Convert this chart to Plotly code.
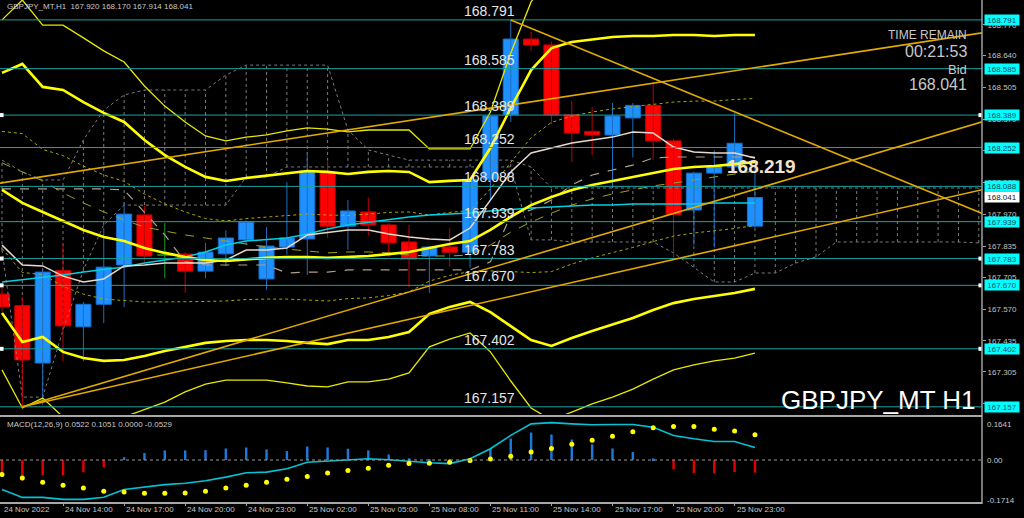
import plotly.graph_objects as go

# ---------------- DATA ----------------
bars = list(range(38))
open_ = [167.633, 167.584, 167.342, 167.732, 167.495, 167.590, 167.756, 167.967, 167.798, 167.802,
         167.730, 167.803, 167.862, 167.697, 167.832, 167.866, 168.150, 167.920, 167.980, 167.925,
         167.853, 167.794, 167.832, 167.810, 168.118, 168.390, 168.710, 168.685, 168.390, 168.320,
         168.305, 168.377, 168.430, 168.280, 167.988, 168.144, 168.170, 167.920]
high = [167.660, 167.620, 167.740, 167.849, 167.600, 167.912, 168.018, 168.005, 167.933, 167.810,
        167.850, 167.903, 167.945, 167.916, 168.106, 168.230, 168.200, 168.030, 168.040, 167.933,
        167.925, 167.835, 167.912, 168.120, 168.390, 168.791, 168.740, 168.700, 168.450, 168.423,
        168.440, 168.440, 168.520, 168.290, 168.150, 168.240, 168.398, 168.170]
low = [167.560, 167.157, 167.165, 167.350, 167.350, 167.510, 167.578, 167.770, 167.700, 167.638,
       167.700, 167.750, 167.840, 167.650, 167.800, 167.714, 167.870, 167.820, 167.880, 167.790,
       167.663, 167.638, 167.748, 167.744, 168.030, 168.360, 168.660, 168.350, 168.190, 168.220,
       168.080, 168.210, 168.200, 167.786, 167.840, 167.830, 168.150, 167.914]
close = [167.579, 167.355, 167.726, 167.499, 167.590, 167.747, 167.971, 167.794, 167.798, 167.730,
         167.810, 167.870, 167.937, 167.836, 167.870, 168.153, 167.920, 167.984, 167.925, 167.850,
         167.781, 167.832, 167.810, 168.118, 168.385, 168.710, 168.685, 168.390, 168.313, 168.305,
         168.385, 168.430, 168.280, 167.970, 168.144, 168.174, 168.270, 168.041]

bb_mid = [168.073, 168.018, 167.980, 167.942, 167.904, 167.874, 167.857, 167.828, 167.807, 167.790,
          167.777, 167.773, 167.781, 167.786, 167.790, 167.790, 167.786, 167.790, 167.794, 167.802,
          167.811, 167.828, 167.845, 167.857, 167.904, 167.959, 168.009, 168.043, 168.073, 168.094,
          168.111, 168.128, 168.144, 168.161, 168.170, 168.174, 168.182, 168.191]
bb_up2 = [168.567, 168.605, 168.508, 168.495, 168.444, 168.398, 168.360, 168.284, 168.220, 168.170,
          168.128, 168.111, 168.123, 168.132, 168.144, 168.153, 168.149, 168.140, 168.149, 168.153,
          168.149, 168.106, 168.111, 168.115, 168.250, 168.419, 168.579, 168.672, 168.698, 168.710,
          168.719, 168.723, 168.723, 168.727, 168.727, 168.723, 168.727, 168.727]
bb_lo2 = [167.553, 167.431, 167.452, 167.389, 167.363, 167.351, 167.355, 167.372, 167.393, 167.410,
          167.427, 167.435, 167.439, 167.439, 167.435, 167.427, 167.422, 167.439, 167.439, 167.452,
          167.473, 167.549, 167.579, 167.600, 167.557, 167.498, 167.439, 167.414, 167.448, 167.477,
          167.503, 167.532, 167.566, 167.595, 167.612, 167.625, 167.638, 167.655]
bb_up3 = [168.791, 168.875, 168.769, 168.769, 168.715, 168.660, 168.613, 168.512, 168.427, 168.360,
          168.301, 168.280, 168.296, 168.305, 168.322, 168.335, 168.330, 168.318, 168.326, 168.326,
          168.326, 168.246, 168.246, 168.246, 168.402, 168.651, 168.867, 168.989, 169.010, 169.019,
          169.023, 169.023, 169.014, 169.010, 169.006, 168.997, 169.002, 168.997]
bb_lo3 = [167.313, 167.152, 167.194, 167.114, 167.093, 167.089, 167.114, 167.144, 167.177, 167.220,
          167.253, 167.270, 167.270, 167.270, 167.258, 167.245, 167.241, 167.262, 167.262, 167.274,
          167.300, 167.410, 167.443, 167.469, 167.389, 167.266, 167.152, 167.101, 167.135, 167.169,
          167.198, 167.232, 167.274, 167.313, 167.334, 167.351, 167.363, 167.384]
bb_up1 = [168.320, 168.311, 168.244, 168.218, 168.174, 168.136, 168.109, 168.056, 168.014, 167.980,
          167.952, 167.942, 167.952, 167.959, 167.967, 167.971, 167.967, 167.965, 167.971, 167.978,
          167.980, 167.967, 167.978, 167.986, 168.077, 168.189, 168.294, 168.358, 168.385, 168.402,
          168.415, 168.425, 168.434, 168.444, 168.448, 168.448, 168.455, 168.459]
bb_lo1 = [167.826, 167.724, 167.716, 167.665, 167.633, 167.612, 167.606, 167.600, 167.600, 167.600,
          167.602, 167.604, 167.610, 167.612, 167.612, 167.608, 167.604, 167.614, 167.617, 167.627,
          167.642, 167.688, 167.712, 167.728, 167.731, 167.728, 167.724, 167.728, 167.760, 167.786,
          167.807, 167.830, 167.855, 167.878, 167.891, 167.899, 167.910, 167.923]
ma_fast = [167.840, 167.756, 167.752, 167.709, 167.684, 167.697, 167.752, 167.756, 167.764, 167.764,
           167.764, 167.777, 167.819, 167.819, 167.828, 167.883, 167.895, 167.904, 167.904, 167.887,
           167.874, 167.866, 167.862, 167.912, 168.030, 168.149, 168.229, 168.250, 168.271, 168.284,
           168.296, 168.318, 168.313, 168.254, 168.233, 168.229, 168.229, 168.208]
kijun = [168.077, 168.077, 168.077, 168.077, 168.077, 168.077, 168.073, 167.980, 167.883, 167.769,
         167.756, 167.756, 167.756, 167.756, 167.722, 167.726, 167.726, 167.735, 167.735, 167.735,
         167.735, 167.735, 167.735, 167.735, 167.769, 167.967, 167.988, 168.030, 168.094, 168.136,
         168.157, 168.178, 168.208, 168.212, 168.212, 168.212, 168.212, 168.212]
ma_slow = [167.684, 167.693, 167.705, 167.714, 167.726, 167.735, 167.747, 167.764, 167.777, 167.790,
           167.811, 167.840, 167.857, 167.862, 167.870, 167.887, 167.908, 167.925, 167.937, 167.950,
           167.959, 167.967, 167.971, 167.975, 167.984, 167.992, 167.997, 168.001, 168.005, 168.009,
           168.009, 168.014, 168.014, 168.014, 168.014, 168.018, 168.018, 168.018]
ma_mid = [168.187, 168.149, 168.111, 168.060, 168.018, 167.980, 167.946, 167.916, 167.899, 167.883,
          167.870, 167.857, 167.845, 167.832, 167.823, 167.815, 167.807, 167.811, 167.811, 167.807,
          167.798, 167.794, 167.794, 167.798, 167.840, 167.895, 167.937, 167.975, 168.009, 168.035,
          168.056, 168.073, 168.090, 168.102, 168.115, 168.128, 168.140, 168.153]

# Ichimoku cloud (shifted forward, 49 bars)
cloud_top = [168.199, 168.149, 168.115, 168.115, 168.284, 168.410, 168.474, 168.495, 168.495, 168.495,
             168.495, 168.558, 168.600, 168.600, 168.600, 168.600, 168.600, 168.326, 168.242, 168.220,
             168.199, 168.199, 168.199, 168.199, 168.199, 168.199, 168.170, 168.081, 168.081, 168.081,
             168.081, 168.081, 168.081, 168.081, 168.081, 168.081, 168.081, 168.081, 168.081, 168.081,
             168.081, 168.081, 168.081, 168.081, 168.081, 168.081, 168.081, 168.081, 168.081]
cloud_bot = [167.819, 167.198, 167.198, 167.481, 167.735, 167.925, 168.009, 168.009, 168.009, 168.009,
             168.009, 168.009, 168.128, 168.128, 168.170, 168.170, 168.170, 168.170, 168.170, 168.170,
             168.170, 168.170, 168.170, 168.170, 168.170, 168.170, 167.862, 167.862, 167.853, 167.853,
             167.853, 167.853, 167.853, 167.807, 167.747, 167.684, 167.684, 167.722, 167.722, 167.764,
             167.790, 167.853, 167.853, 167.853, 167.853, 167.853, 167.853, 167.853, 167.849]

levels = [168.791, 168.585, 168.389, 168.252, 168.088, 167.939, 167.783, 167.670, 167.402, 167.157]
marked_levels = [168.389, 167.783, 167.670, 167.402]
price_ticks = [168.770, 168.640, 168.505, 168.370, 168.240, 168.105, 167.970,
               167.835, 167.705, 167.570, 167.435, 167.305, 167.170]

# trendlines: (bar, price) start -> end
trend_x0 = [1, 1, -1, 25]
trend_p0 = [167.157, 167.157, 168.090, 168.791]
trend_x1 = [49, 49, 49, 49]
trend_p1 = [168.382, 168.090, 168.747, 167.944]

macd_main = [-0.122, -0.155, -0.155, -0.163, -0.163, -0.154, -0.122, -0.112, -0.102, -0.096,
             -0.086, -0.071, -0.053, -0.050, -0.036, -0.009, -0.005, 0.002, 0.005, 0.001,
             -0.006, -0.011, -0.015, 0.005, 0.047, 0.102, 0.150, 0.155, 0.150, 0.146,
             0.147, 0.147, 0.136, 0.102, 0.088, 0.077, 0.077, 0.0522]
macd_signal = [-0.060, -0.075, -0.092, -0.105, -0.116, -0.129, -0.133, -0.138, -0.138, -0.137,
               -0.129, -0.116, -0.105, -0.092, -0.080, -0.068, -0.054, -0.043, -0.034, -0.022,
               -0.014, -0.013, -0.009, -0.002, 0.004, 0.016, 0.033, 0.048, 0.065, 0.082,
               0.099, 0.117, 0.134, 0.139, 0.139, 0.128, 0.120, 0.1051]
macd_hist = [-0.056, -0.085, -0.064, -0.064, -0.051, -0.031, 0.012, 0.029, 0.040, 0.040,
             0.041, 0.048, 0.052, 0.044, 0.037, 0.056, 0.052, 0.047, 0.040, 0.023,
             0.007, 0.002, 0.001, 0.003, 0.048, 0.089, 0.114, 0.106, 0.085, 0.065,
             0.048, 0.033, 0.007, -0.039, -0.054, -0.056, -0.050, -0.0529]

time_tick_bars = [3, 6, 9, 12, 15, 18, 21, 24, 27, 30, 33, 36]
time_tick_labels = ["24 Nov 14:00", "24 Nov 17:00", "24 Nov 20:00", "24 Nov 23:00",
                    "25 Nov 02:00", "25 Nov 05:00", "25 Nov 08:00", "25 Nov 11:00",
                    "25 Nov 14:00", "25 Nov 17:00", "25 Nov 20:00", "25 Nov 23:00"]
first_date_label = "24 Nov 2022"
symbol = "GBPJPY_MT"
bid = 168.041
bold_value = 168.219
bold_value_pos = (37.3, 168.174)
level_label_bar = 22.65

FONT = "Liberation Sans, Arial, sans-serif"
X_RANGE = [-0.098, 48.157]

fig = go.Figure()

def sc(x, y, color, width=1.0, dash="solid", xa="x", ya="y", mode="lines", marker=None):
    kw = dict(x=x, y=y, mode=mode, xaxis=xa, yaxis=ya, hoverinfo="skip", showlegend=False)
    if "lines" in mode:
        kw["line"] = dict(color=color, width=width, dash=dash)
    if marker:
        kw["marker"] = marker
    fig.add_trace(go.Scatter(**kw))

# ---- cloud hatch ----
cx = list(range(len(cloud_top)))
vx, vy = [], []
for i in cx:
    vx += [i, i, None]
    vy += [cloud_bot[i], cloud_top[i], None]
sc(vx, vy, "#7c7c7c", 1, "dot")
sc(cx, cloud_top, "#7c7c7c", 1, "dot")
sc(cx, cloud_bot, "#7c7c7c", 1, "dot")

# ---- candles ----
bull = [i for i in bars if close[i] > open_[i]]
bear = [i for i in bars if close[i] < open_[i]]
doji = [i for i in bars if close[i] == open_[i]]

for idx, wick_col in ((bull, "#1b6fc0"), (bear, "#c00000"), (doji, "#18a018")):
    wx, wy = [], []
    for i in idx:
        wx += [i, i, None]
        wy += [low[i], high[i], None]
    sc(wx, wy, wick_col, 1)

fig.add_trace(go.Bar(x=bull, base=[open_[i] for i in bull], y=[close[i] - open_[i] for i in bull],
                     width=0.74, marker=dict(color="#1e90ff", line=dict(color="#1a70d0", width=1)),
                     hoverinfo="skip", showlegend=False, xaxis="x", yaxis="y"))
fig.add_trace(go.Bar(x=bear, base=[close[i] for i in bear], y=[open_[i] - close[i] for i in bear],
                     width=0.74, marker=dict(color="#ff0000", line=dict(color="#d00000", width=1)),
                     hoverinfo="skip", showlegend=False, xaxis="x", yaxis="y"))
dx, dy = [], []
for i in doji:
    dx += [i - 0.37, i + 0.37, None]
    dy += [open_[i], open_[i], None]
sc(dx, dy, "#18a018", 1.5)

# ---- indicators ----
sc(bars, ma_mid, "#a0a020", 1, "dash")
sc(bars, bb_up1, "#a8a800", 1, "dot")
sc(bars, bb_lo1, "#a8a800", 1, "dot")
sc(bars, kijun, "#b0a090", 1.2, "dash")
sc(bars, ma_slow, "#00d0e0", 1.5)
sc(bars, ma_fast, "#e8d8cc", 1.5)
sc(bars, bb_up3, "#e8e800", 1.3)
sc(bars, bb_lo3, "#e8e800", 1.3)
sc(bars, bb_up2, "#ffff00", 2.6)
sc(bars, bb_lo2, "#ffff00", 2.6)
sc(bars, bb_mid, "#ffff00", 2.6)

# ---- horizontal levels ----
for lv in levels:
    sc([-1, 50], [lv, lv], "#1aa3a3", 1)
sc([-0.02] * len(marked_levels), marked_levels, None, mode="markers",
   marker=dict(symbol="square", size=4, color="#ffffff"))
sc([48.08] * len(marked_levels), marked_levels, None, mode="markers",
   marker=dict(symbol="square", size=4, color="#ffffff"))

# ---- trendlines ----
for a, b, c, d in zip(trend_x0, trend_p0, trend_x1, trend_p1):
    sc([a, c], [b, d], "#e0aa00", 1.6)

# ---- MACD ----
fig.add_trace(go.Bar(x=bars, y=macd_hist, width=0.12,
                     marker=dict(color=["#1e78d8" if v >= 0 else "#e00000" for v in macd_hist],
                                 line=dict(width=0)),
                     hoverinfo="skip", showlegend=False, xaxis="x2", yaxis="y2"))
sc(bars, macd_main, "#00c4d4", 1.6, xa="x2", ya="y2")
sc(bars, macd_signal, None, mode="markers", xa="x2", ya="y2",
   marker=dict(color="#ffff00", size=5))

annotations = []
def ann(text, x, y, xref="paper", yref="paper", size=8, color="#c8c8c8", xanchor="left",
        yanchor="middle", bg=None, **kw):
    d = dict(text=text, x=x, y=y, xref=xref, yref=yref, showarrow=False,
             font=dict(family=FONT, size=size, color=color), xanchor=xanchor, yanchor=yanchor)
    if bg:
        d["bgcolor"] = bg
    d.update(kw)
    annotations.append(d)

# level labels in the chart
for lv in levels:
    ann(f"{lv:.3f}", level_label_bar, lv, xref="x", yref="y", size=14, color="#e6e6e6",
        yanchor="bottom", borderpad=0)

# right axis boxes
for lv in levels:
    ann(f"{lv:.3f}", 1, lv, yref="y", size=8, color="#204860", bg="#00ffff",
        xshift=2, width=34, height=10, borderpad=0, align="center")
ann(f"{bid:.3f}", 1, bid, yref="y", size=8, color="#202020", bg="#ffffff",
    xshift=2, width=34, height=10, borderpad=0, align="center")

# MACD axis labels
ann("0.1641", 1, 0.1641, yref="y2", size=8, xshift=3, yshift=-4)
ann("0.00", 1, 0.0, yref="y2", size=8, xshift=3)
ann("-0.1714", 1, -0.1714, yref="y2", size=8, xshift=3, yshift=1)

# texts
ann(f"{symbol},H1  {open_[-1]:.3f} {high[-1]:.3f} {low[-1]:.3f} {close[-1]:.3f}",
    0.005, 0.988, size=8, color="#c8c8c8")
ann(f"MACD(12,26,9) {macd_main[-1]:.4f} {macd_signal[-1]:.4f} 0.0000 {macd_hist[-1]:.4f}",
    0.005, 0.1534, size=8, color="#c8c8c8")
ann("TIME REMAIN", 0.9868, 0.930, size=12, color="#c8c8c8", xanchor="right")
ann("00:21:53", 0.9868, 0.898, size=16, color="#c8c8c8", xanchor="right")
ann("Bid", 0.9868, 0.861, size=13, color="#c8c8c8", xanchor="right")
ann(f"{bid:.3f}", 0.9868, 0.831, size=16, color="#c8c8c8", xanchor="right")
ann(f"{symbol} H1", 0.996, 0.203, size=26, color="#ffffff", xanchor="right")
ann(f"<b>{bold_value:.3f}</b>", bold_value_pos[0], bold_value_pos[1], xref="x", yref="y",
    size=19, color="#f2e4cc", xanchor="center")

# time labels
ann(first_date_label, 0, 0, xref="x2", size=8, yanchor="top", yshift=-1)
for b, t in zip(time_tick_bars, time_tick_labels):
    ann(t, b, 0, xref="x2", size=8, yanchor="top", yshift=-1)

shapes = [
    dict(type="line", xref="paper", yref="paper", x0=1, x1=1, y0=-0.004, y1=1,
         line=dict(color="#a0a0a0", width=1.5)),
    dict(type="line", xref="paper", yref="paper", x0=0, x1=1, y0=0.1713, y1=0.1713,
         line=dict(color="#a8a8a8", width=2)),
    dict(type="line", xref="paper", yref="paper", x0=0, x1=1, y0=-0.002, y1=-0.002,
         line=dict(color="#a8a8a8", width=2)),
    dict(type="line", xref="paper", yref="y2", x0=0, x1=1, y0=0, y1=0,
         line=dict(color="#9a9a9a", width=1, dash="dot")),
]

fig.update_layout(
    width=1024, height=518, autosize=False,
    margin=dict(l=0, r=42, t=0, b=16),
    paper_bgcolor="#000000", plot_bgcolor="#000000",
    barmode="overlay", showlegend=False, hovermode=False,
    font=dict(family=FONT, color="#c8c8c8"),
    xaxis=dict(domain=[0, 1], range=X_RANGE, anchor="y", showgrid=False, zeroline=False,
               showticklabels=False, ticks=""),
    xaxis2=dict(domain=[0, 1], range=X_RANGE, anchor="y2", showgrid=False, zeroline=False,
                showticklabels=False, ticks="outside", tickvals=time_tick_bars, ticklen=3,
                tickcolor="#a0a0a0", matches="x"),
    yaxis=dict(domain=[0.1753, 1], range=[167.1267, 168.875], side="right", showgrid=False,
               zeroline=False, tickvals=price_ticks, ticktext=[f"{v:.3f}" for v in price_ticks],
               ticks="outside", ticklen=3, tickcolor="#a0a0a0",
               tickfont=dict(family=FONT, size=8, color="#c0c0c0")),
    yaxis2=dict(domain=[0, 0.1653], range=[-0.174, 0.170], side="right", showgrid=False,
                zeroline=False, showticklabels=False, ticks=""),
    annotations=annotations, shapes=shapes,
)

fig.write_html(
    "out.html",
    config={"displayModeBar": False},
    post_script="document.body.style.margin='0';document.body.style.padding='0';"
                "document.body.style.overflow='hidden';document.body.style.background='#000';",
)
